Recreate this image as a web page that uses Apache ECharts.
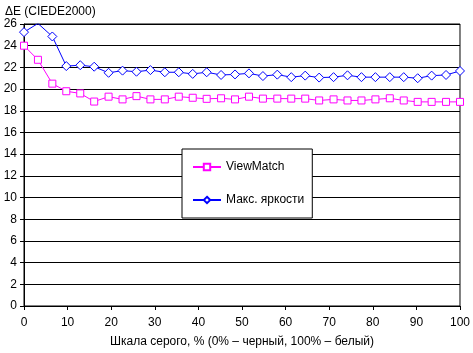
<!DOCTYPE html>
<html>
<head>
<meta charset="utf-8">
<script src="https://cdn.jsdelivr.net/npm/echarts@6/dist/echarts.min.js"></script>
<style>
  html, body { margin: 0; padding: 0; background: #fff; }
  #chart { width: 473px; height: 353px; }
</style>
</head>
<body>
<div id="chart"></div>
<script>
  // grey level, % (32 measurement steps)
  var greyLevels = [0, 3.2, 6.5, 9.7, 12.9, 16.1, 19.4, 22.6, 25.8, 29.0, 32.3, 35.5, 38.7, 41.9, 45.2, 48.4,
    51.6, 54.8, 58.1, 61.3, 64.5, 67.7, 71.0, 74.2, 77.4, 80.6, 83.9, 87.1, 90.3, 93.5, 96.8, 100]
  var viewMatch = [24.0, 22.7, 20.5, 19.8, 19.6, 18.85, 19.3, 19.05, 19.35, 19.05, 19.05, 19.3, 19.2, 19.1, 19.15, 19.05,
    19.3, 19.12, 19.12, 19.12, 19.12, 18.95, 19.05, 18.95, 18.95, 19.05, 19.15, 18.95, 18.82, 18.82, 18.82, 18.82]
  var maxBright = [25.25, 26.05, 24.85, 22.12, 22.2, 22.06, 21.5, 21.7, 21.6, 21.75, 21.55, 21.55, 21.4, 21.55, 21.3, 21.35,
    21.45, 21.2, 21.33, 21.1, 21.24, 21.06, 21.1, 21.27, 21.1, 21.1, 21.1, 21.1, 21.0, 21.24, 21.3, 21.67]
  var seriesNames = ['ViewMatch', 'Макс. яркости']

  var font = 'Liberation Sans, Arial, sans-serif'
  var chart = echarts.init(document.getElementById('chart'))

  function pairs(ys) {
    var out = []
    for (var i = 0; i < greyLevels.length; i++) {
      out.push([greyLevels[i], ys[i]])
    }
    return out
  }

  chart.setOption({
    animation: false,
    textStyle: { fontFamily: font },
    title: {
      text: 'ΔE (CIEDE2000)',
      left: 0,
      top: 1,
      textStyle: { fontSize: 12, fontWeight: 'normal', color: '#000', fontFamily: font }
    },
    legend: {
      orient: 'vertical',
      left: 182,
      top: 149,
      padding: [12, 8, 12, 10],
      itemWidth: 28,
      itemHeight: 8,
      itemGap: 21,
      backgroundColor: '#fff',
      borderColor: '#000',
      borderWidth: 1,
      textStyle: { fontSize: 12, color: '#000', fontFamily: font },
      data: seriesNames
    },
    grid: {
      left: 24,
      right: 10,
      top: 24,
      bottom: 43,
      show: true,
      borderColor: '#000',
      borderWidth: 1
    },
    xAxis: {
      type: 'value',
      min: 0,
      max: 100,
      interval: 10,
      name: 'Шкала серого, % (0% – черный, 100% – белый)',
      nameLocation: 'middle',
      nameGap: 30,
      nameTextStyle: { fontSize: 12, color: '#000', fontFamily: font },
      axisLine: { lineStyle: { color: '#000', width: 1 } },
      axisTick: { show: true, length: 4, lineStyle: { color: '#000' } },
      axisLabel: { margin: 11, fontSize: 12, color: '#000', fontFamily: font },
      splitLine: { show: false }
    },
    yAxis: {
      type: 'value',
      min: 0,
      max: 26,
      interval: 2,
      axisLine: { show: true, lineStyle: { color: '#000', width: 1 } },
      axisTick: { show: true, length: 4, lineStyle: { color: '#000' } },
      axisLabel: { margin: 7, fontSize: 12, color: '#000', fontFamily: font },
      splitLine: { show: true, lineStyle: { color: '#000', width: 1 } }
    },
    series: [{
      name: seriesNames[0],
      type: 'line',
      data: pairs(viewMatch),
      symbol: 'rect',
      symbolSize: 7,
      itemStyle: { color: '#fff', borderColor: '#ff00ff', borderWidth: 1 },
      lineStyle: { color: '#ff00ff', width: 1 },
      color: '#ff00ff'
    }, {
      name: seriesNames[1],
      type: 'line',
      data: pairs(maxBright),
      symbol: 'diamond',
      symbolSize: 9,
      itemStyle: { color: '#fff', borderColor: '#0000ff', borderWidth: 1 },
      lineStyle: { color: '#0000ff', width: 1 },
      color: '#0000ff'
    }]
  })
</script>
</body>
</html>
